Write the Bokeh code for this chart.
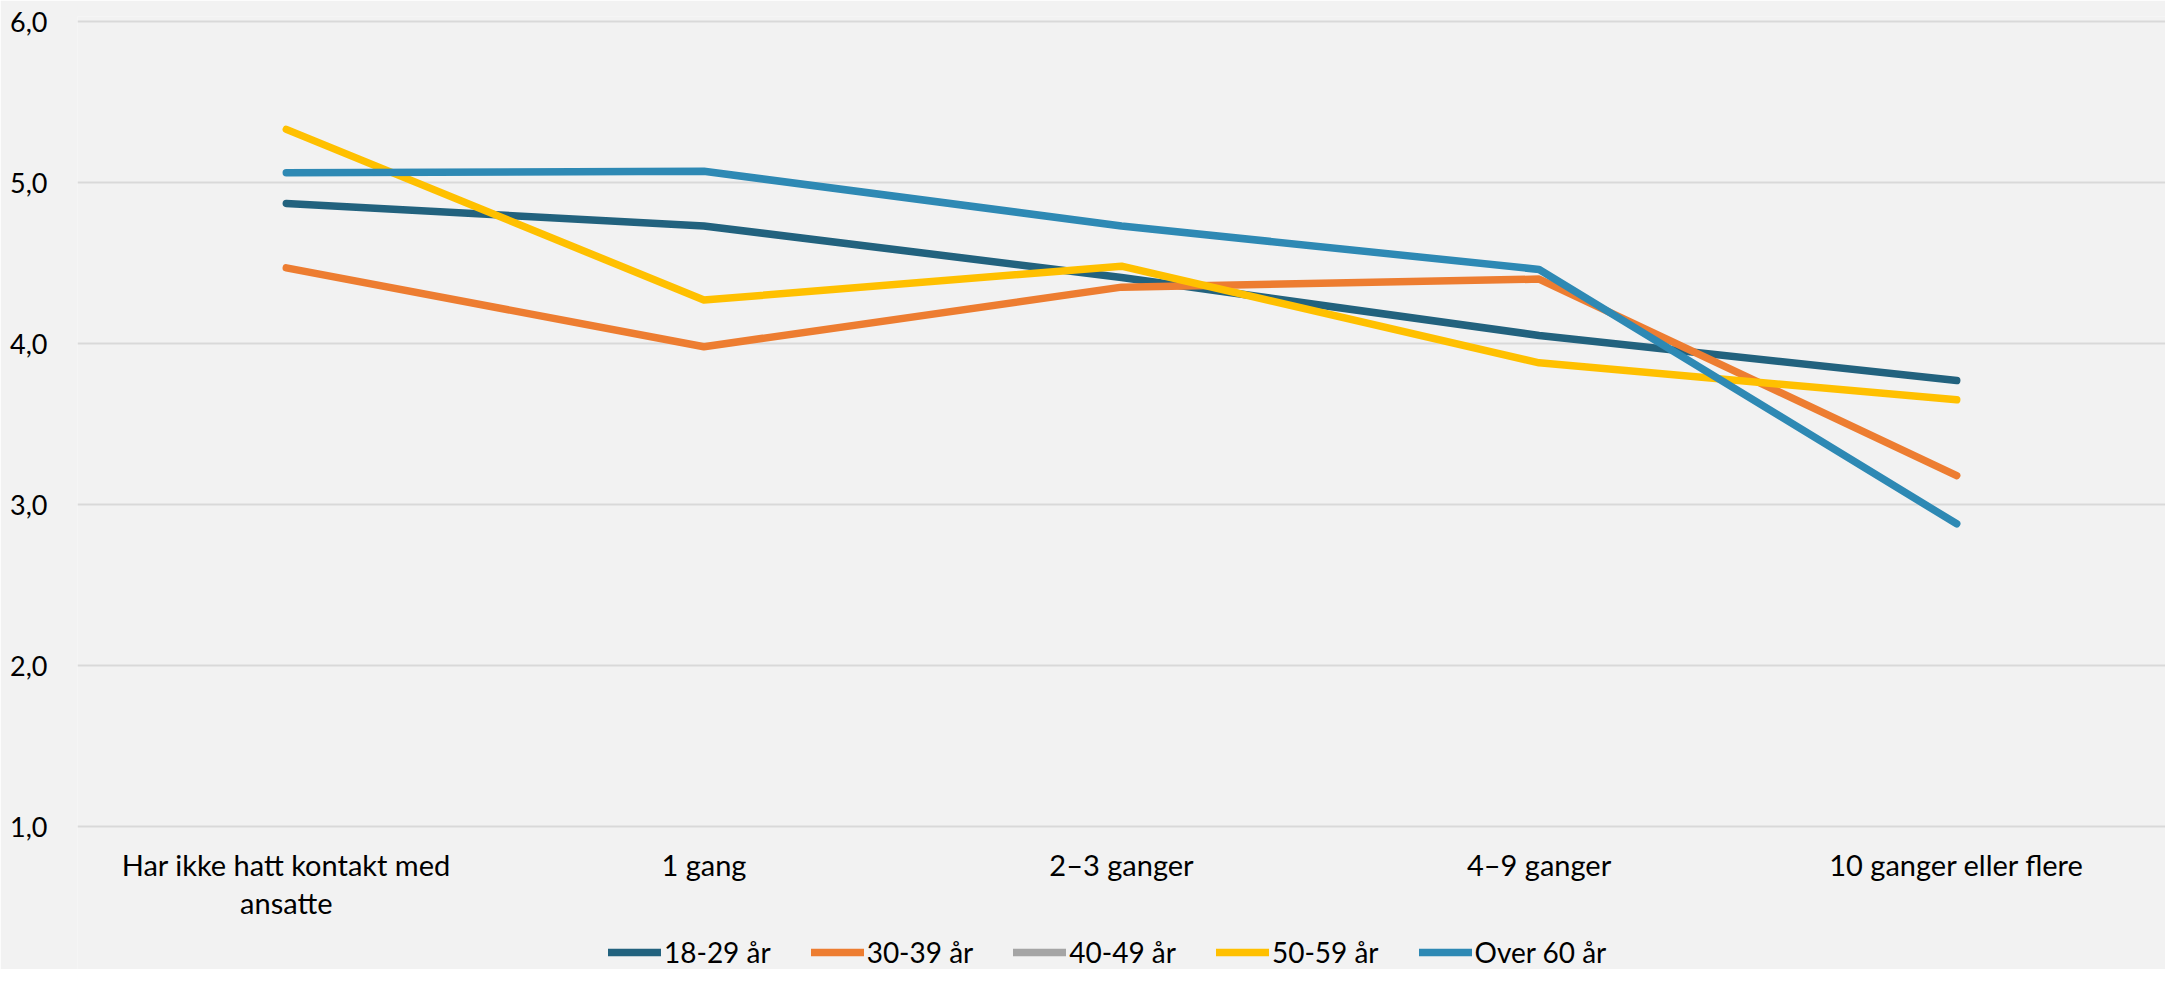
from bokeh.plotting import figure
from bokeh.models import Range1d, FactorRange, Legend, LegendItem, ColumnDataSource, FixedTicker, LabelSet
from bokeh.core.properties import value
from bokeh.embed import file_html
from bokeh.resources import INLINE

categories = ["Har ikke hatt kontakt med ansatte", "1 gang", "2–3 ganger", "4–9 ganger", "10 ganger eller flere"]
category_line1 = ["Har ikke hatt kontakt med", "1 gang", "2–3 ganger", "4–9 ganger", "10 ganger eller flere"]
category_line2 = ["ansatte", "", "", "", ""]
series_names = ["18-29 år", "30-39 år", "40-49 år", "50-59 år", "Over 60 år"]
v_18_29 = [4.87, 4.73, 4.41, 4.05, 3.77]
v_30_39 = [4.47, 3.98, 4.35, 4.40, 3.18]
v_40_49 = [float("nan")] * 5
v_50_59 = [5.33, 4.27, 4.48, 3.88, 3.65]
v_over_60 = [5.06, 5.07, 4.73, 4.46, 2.88]
series_colors = ["#22627E", "#ED7D31", "#A5A5A5", "#FFC000", "#2E89B4"]
y_ticks = [1, 2, 3, 4, 5, 6]
y_tick_labels = ["1,0", "2,0", "3,0", "4,0", "5,0", "6,0"]

FONT = "Lato"
BG = "#F2F2F2"

# layout (pixels inside the figure)
W, H = 2165, 969
TOP_BORDER = 16
Y_TOP_PX = 21      # where the highest tick sits
Y_BOT_PX = 826     # where the lowest tick sits
ppu = (Y_BOT_PX - Y_TOP_PX) / (y_ticks[-1] - y_ticks[0])
y_hi = y_ticks[-1] + (Y_TOP_PX - TOP_BORDER) / ppu
y_lo = y_ticks[0] - (H - Y_BOT_PX) / ppu

p = figure(width=W, height=H, x_range=FactorRange(*categories), y_range=Range1d(y_lo, y_hi),
           output_backend="svg", toolbar_location=None,
           min_border_left=77, min_border_right=0, min_border_top=TOP_BORDER, min_border_bottom=0)
p.background_fill_color = BG
p.border_fill_color = BG
p.outline_line_color = None

p.xgrid.grid_line_color = None
p.ygrid.grid_line_color = "#D9D9D9"
p.ygrid.grid_line_width = 2
p.yaxis.ticker = FixedTicker(ticks=y_ticks)
p.yaxis.major_label_overrides = {t: l for t, l in zip(y_ticks, y_tick_labels)}
p.yaxis.axis_line_color = None
p.yaxis.major_tick_line_color = None
p.yaxis.minor_tick_line_color = None
p.yaxis.major_label_text_font = FONT
p.yaxis.major_label_text_color = "#000000"
p.yaxis.major_label_text_font_size = "27px"
p.yaxis.major_label_standoff = 24
p.xaxis.visible = False

line1_y = (H - Y_BOT_PX) - 20   # screen units from frame bottom
line_gap = 38
label_src = ColumnDataSource(dict(x=categories, t1=category_line1, t2=category_line2))
for field, yy in (("t1", line1_y), ("t2", line1_y - line_gap)):
    p.add_layout(LabelSet(x="x", y=yy, y_units="screen", text=field, source=label_src,
                          text_align="center", text_baseline="top", text_font=value(FONT),
                          text_font_size="29px", text_color="#000000"))

all_values = [v_18_29, v_30_39, v_40_49, v_50_59, v_over_60]
items = []
for name, vals, col in zip(series_names, all_values, series_colors):
    src = ColumnDataSource(dict(x=categories, y=vals))
    r = p.line("x", "y", source=src, line_color=col, line_width=7.5, line_cap="round", line_join="round")
    items.append(LegendItem(label=name, renderers=[r]))

legend = Legend(items=items, orientation="horizontal", location=(531, 0),
                label_text_font=FONT, label_text_font_size="28px", label_text_color="#000000",
                label_text_line_height=0.8, label_height=12,
                glyph_width=53, glyph_height=12, label_standoff=3, spacing=40,
                background_fill_alpha=0, border_line_color=None, padding=0, margin=0)
p.add_layout(legend, "center")

html = file_html(p, INLINE)
html = html.replace("<body>", '<body style="background-color:#F2F2F2;">', 1)
open("out.html", "w").write(html)
